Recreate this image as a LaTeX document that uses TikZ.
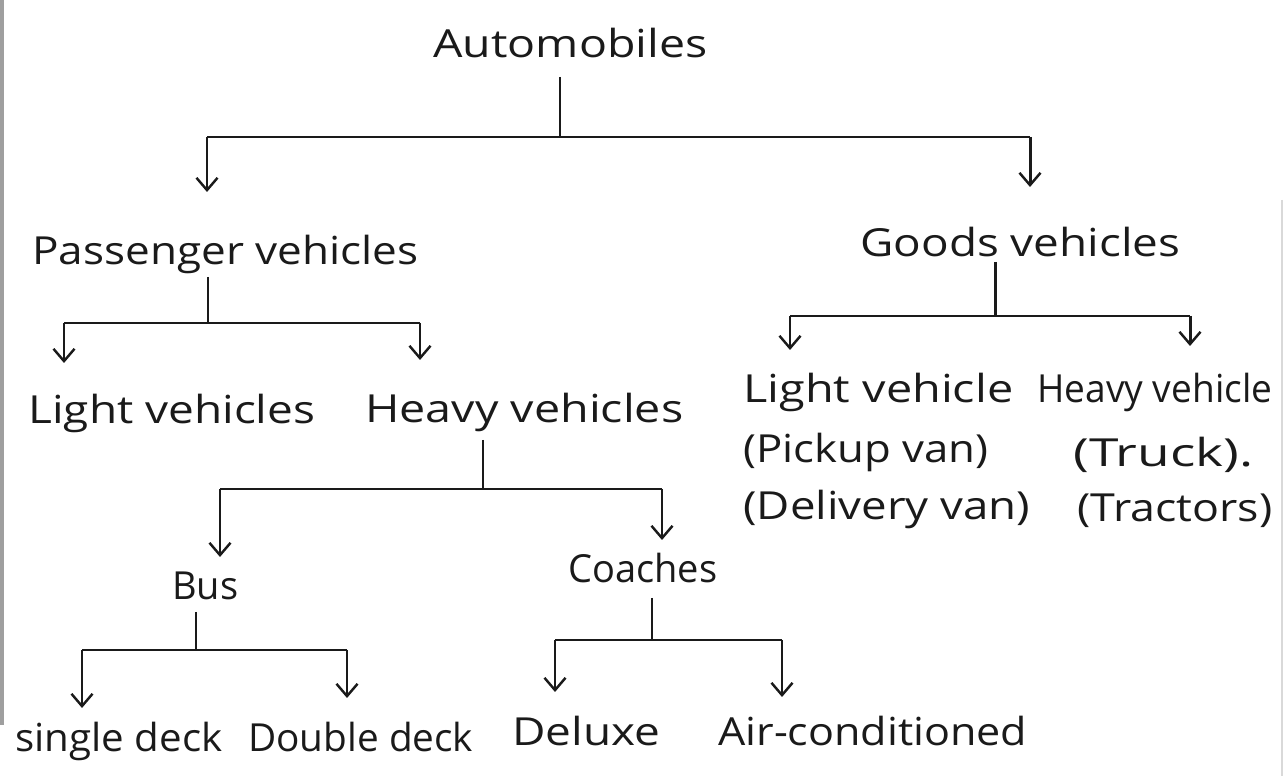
\documentclass[tikz,border=0pt]{standalone}
\usepackage{graphicx}
\usepackage{fontspec}
\setmainfont{Open Sans}
\usetikzlibrary{arrows.meta}
\definecolor{ink}{HTML}{1A1A1A}
\newcommand{\hw}[2]{\resizebox{#1}{\height}{#2}}
\tikzset{
  lbl/.style={inner sep=0pt, text=ink, anchor=base west, font=\fontsize{22}{26}\selectfont},
  line/.style={draw=ink, line width=1.7pt},
  arr/.style={draw=ink, line width=1.7pt, -{Straight Barb[length=7pt,width=12pt,line width=1.4pt]}}
}
\begin{document}
\begin{tikzpicture}[x=0.02cm,y=-0.02cm]
\fill[white] (0,0) rectangle (1286,776);
\clip (0,0) rectangle (1286,776);
\draw[gray!75, line width=3pt] (1,0) -- (1,725);
\draw[gray!30, line width=1.5pt] (1282,200) -- (1282,776);
% nodes
\node[lbl] (auto)  at (433,58)  {\hw{5.48cm}{Automobiles}};
\node[lbl] (pv)    at (32,265)  {\hw{7.72cm}{Passenger vehicles}};
\node[lbl] (gv)    at (860,257) {\hw{6.4cm}{Goods vehicles}};
\node[lbl] (lv)    at (28,424)  {\hw{5.74cm}{Light vehicles}};
\node[lbl] (hv)    at (365,423) {\hw{6.36cm}{Heavy vehicles}};
\node[lbl] (glv)   at (743,403) {\hw{5.4cm}{Light vehicle}};
\node[lbl] (ghv)   at (1037,403) {\hw{4.7cm}{Heavy vehicle}};
\node[lbl] (pick)  at (743,463) {\hw{4.9cm}{(Pickup van)}};
\node[lbl] (truck) at (1073,467) {\hw{3.6cm}{(Truck).}};
\node[lbl] (deliv) at (743,520) {\hw{5.74cm}{(Delivery van)}};
\node[lbl] (tract) at (1077,522) {\hw{3.9cm}{(Tractors)}};
\node[lbl] (bus)   at (172,600) {\hw{1.32cm}{Bus}};
\node[lbl] (coach) at (568,583) {\hw{2.98cm}{Coaches}};
\node[lbl] (sd)    at (15,752)  {\hw{4.14cm}{single deck}};
\node[lbl] (dd)    at (248,752) {\hw{4.5cm}{Double deck}};
\node[lbl] (dlx)   at (512,746) {\hw{2.96cm}{Deluxe}};
\node[lbl] (ac)    at (718,746) {\hw{6.18cm}{Air-conditioned}};
% junction coordinates
\coordinate (a0) at (560,77);   \coordinate (a1) at (560,137);
\coordinate (aL) at (207,137);  \coordinate (aR) at (1030,137);
\coordinate (aLt) at (207,192); \coordinate (aRt) at (1030,187);
\coordinate (p0) at (208,277);  \coordinate (p1) at (208,323);
\coordinate (pL) at (64,323);   \coordinate (pR) at (420,323);
\coordinate (pLt) at (64,363);  \coordinate (pRt) at (420,360);
\coordinate (g0) at (995,262);  \coordinate (g1) at (995,316);
\coordinate (gL) at (790,316);  \coordinate (gR) at (1190,316);
\coordinate (gLt) at (790,350); \coordinate (gRt) at (1190,346);
\coordinate (h0) at (483,440);  \coordinate (h1) at (483,489);
\coordinate (hL) at (220,489);  \coordinate (hR) at (662,489);
\coordinate (hLt) at (220,557); \coordinate (hRt) at (662,540);
\coordinate (b0) at (196,612);  \coordinate (b1) at (196,650);
\coordinate (bL) at (82,650);   \coordinate (bR) at (347,650);
\coordinate (bLt) at (82,708);  \coordinate (bRt) at (347,698);
\coordinate (c0) at (652,598);  \coordinate (c1) at (652,640);
\coordinate (cL) at (555,640);  \coordinate (cR) at (782,640);
\coordinate (cLt) at (555,692); \coordinate (cRt) at (782,697);
% connectors
\draw[line] (a0) -- (a1);
\draw[line] (aL) -- (aR);
\draw[arr] (aL) -- (aLt);
\draw[arr] (aR) -- (aRt);
\draw[line] (p0) -- (p1);
\draw[line] (pL) -- (pR);
\draw[arr] (pL) -- (pLt);
\draw[arr] (pR) -- (pRt);
\draw[line] (g0) -- (g1);
\draw[line] (gL) -- (gR);
\draw[arr] (gL) -- (gLt);
\draw[arr] (gR) -- (gRt);
\draw[line] (h0) -- (h1);
\draw[line] (hL) -- (hR);
\draw[arr] (hL) -- (hLt);
\draw[arr] (hR) -- (hRt);
\draw[line] (b0) -- (b1);
\draw[line] (bL) -- (bR);
\draw[arr] (bL) -- (bLt);
\draw[arr] (bR) -- (bRt);
\draw[line] (c0) -- (c1);
\draw[line] (cL) -- (cR);
\draw[arr] (cL) -- (cLt);
\draw[arr] (cR) -- (cRt);
\end{tikzpicture}
\end{document}
